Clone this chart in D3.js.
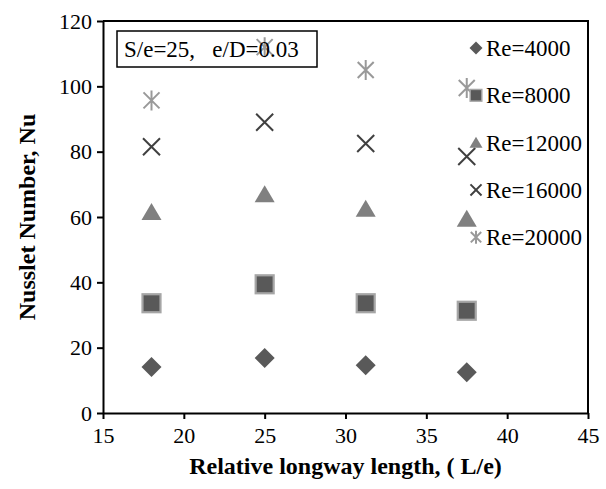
<!DOCTYPE html>
<html>
<head>
<meta charset="utf-8">
<script src="https://cdn.jsdelivr.net/npm/d3@7"></script>
<style>
  body { margin: 0; background: #fff; }
  text { font-family: 'Liberation Serif', 'Times New Roman', serif; }
</style>
</head>
<body>
<svg id="chart" width="606" height="489"></svg>
<script>
/* data */
const lengthRatio = [18, 25, 31.25, 37.5]
const seriesNames = ['Re=4000', 'Re=8000', 'Re=12000', 'Re=16000', 'Re=20000']
const nu4000 = [14.1, 16.8, 14.6, 12.5]
const nu8000 = [33.6, 39.4, 33.6, 31.3]
const nu12000 = [61.5, 67, 62.5, 59.5]
const nu16000 = [81.5, 89, 82.5, 78.5]
const nu20000 = [95.7, 112, 105, 99.5]
const xTicks = [15, 20, 25, 30, 35, 40, 45]
const yTicks = [0, 20, 40, 60, 80, 100, 120]

const allSeries = [nu4000, nu8000, nu12000, nu16000, nu20000]
const shapes = ['diamond', 'square', 'triangle', 'cross', 'star']

/* plot area */
const margin = { top: 21, left: 103, right: 18, bottom: 76 }
const W = 606, H = 489
const svg = d3.select('#chart')

const x = d3.scaleLinear().domain([15, 45]).range([margin.left, W - margin.right])
const y = d3.scaleLinear().domain([0, 120]).range([H - margin.bottom, margin.top])

/* fn: draw one marker of the given shape at (cx, cy), s = half size */
function marker(g, shape, cx, cy, s) {
  const m = g.append('g').attr('transform', `translate(${cx},${cy})`)
  if (shape === 'diamond') {
    m.append('path')
      .attr('d', `M0,${-s}L${s},0L0,${s}L${-s},0Z`)
      .attr('fill', '#595959')
  } else if (shape === 'square') {
    const a = s * 0.9
    m.append('rect')
      .attr('x', -a).attr('y', -a).attr('width', 2 * a).attr('height', 2 * a)
      .attr('fill', '#595959').attr('stroke', '#a6a6a6').attr('stroke-width', s * 0.22)
  } else if (shape === 'triangle') {
    m.append('path')
      .attr('d', `M0,${-s * 0.9}L${s},${s * 0.8}L${-s},${s * 0.8}Z`)
      .attr('fill', '#808080')
  } else if (shape === 'cross') {
    const a = s * 0.85
    m.append('path')
      .attr('d', `M${-a},${-a}L${a},${a}M${a},${-a}L${-a},${a}`)
      .attr('stroke', '#404040').attr('stroke-width', 2).attr('fill', 'none')
  } else if (shape === 'star') {
    const a = s * 0.8
    m.append('path')
      .attr('d', `M${-a},${-a}L${a},${a}M${a},${-a}L${-a},${a}M0,${-s}L0,${s}`)
      .attr('stroke', '#999999').attr('stroke-width', 2).attr('fill', 'none')
  }
}

/* axes */
const xAxis = d3.axisBottom(x).tickValues(xTicks).tickSize(6).tickSizeOuter(0)
const yAxis = d3.axisLeft(y).tickValues(yTicks).tickSize(6).tickSizeOuter(0)

const gx = svg.append('g')
  .attr('transform', `translate(0,${y(0)})`)
  .call(xAxis)
gx.select('.domain').attr('stroke', '#000').attr('stroke-width', 2)
gx.selectAll('.tick line').attr('stroke', '#000').attr('stroke-width', 2)
gx.selectAll('.tick text')
  .attr('font-size', 22).attr('font-family', "'Liberation Serif', serif")
  .attr('fill', '#000').attr('dy', '0.95em').attr('y', 9)

const gy = svg.append('g')
  .attr('transform', `translate(${x(15)},0)`)
  .call(yAxis)
gy.select('.domain').attr('stroke', '#000').attr('stroke-width', 2)
gy.selectAll('.tick line').attr('stroke', '#000').attr('stroke-width', 2)
gy.selectAll('.tick text')
  .attr('font-size', 22).attr('font-family', "'Liberation Serif', serif")
  .attr('fill', '#000').attr('x', -11)

/* plot frame (top and right) */
svg.append('path')
  .attr('d', `M${x(15)},${y(120)}H${x(45)}V${y(0)}`)
  .attr('fill', 'none').attr('stroke', '#000').attr('stroke-width', 2)

/* axis titles */
svg.append('text')
  .attr('x', (x(15) + x(45)) / 2).attr('y', 474)
  .attr('text-anchor', 'middle').attr('font-size', 24).attr('font-weight', 'bold')
  .text('Relative longway length, ( L/e)')

svg.append('text')
  .attr('transform', `translate(35,${(y(0) + y(120)) / 2}) rotate(-90)`)
  .attr('text-anchor', 'middle').attr('font-size', 24).attr('font-weight', 'bold')
  .text('Nusslet Number, Nu')

/* annotation box */
svg.append('rect')
  .attr('x', 117).attr('y', 31).attr('width', 200).attr('height', 36)
  .attr('fill', '#fff').attr('stroke', '#000').attr('stroke-width', 1.5)

/* data markers */
const pts = svg.append('g')
allSeries.forEach((vals, i) => {
  vals.forEach((v, j) => marker(pts, shapes[i], x(lengthRatio[j]), y(v), 10))
})

svg.append('text')
  .attr('x', 124).attr('y', 57).attr('font-size', 23)
  .attr('xml:space', 'preserve')
  .text('S/e=25,   e/D=0.03')

/* legend */
const legend = svg.append('g')
seriesNames.forEach((name, i) => {
  const ly = 48 + i * 47.3
  marker(legend, shapes[i], 476, ly, 6.5)
  legend.append('text')
    .attr('x', 486).attr('y', ly).attr('dy', '0.35em')
    .attr('font-size', 23).text(name)
})
</script>
</body>
</html>
